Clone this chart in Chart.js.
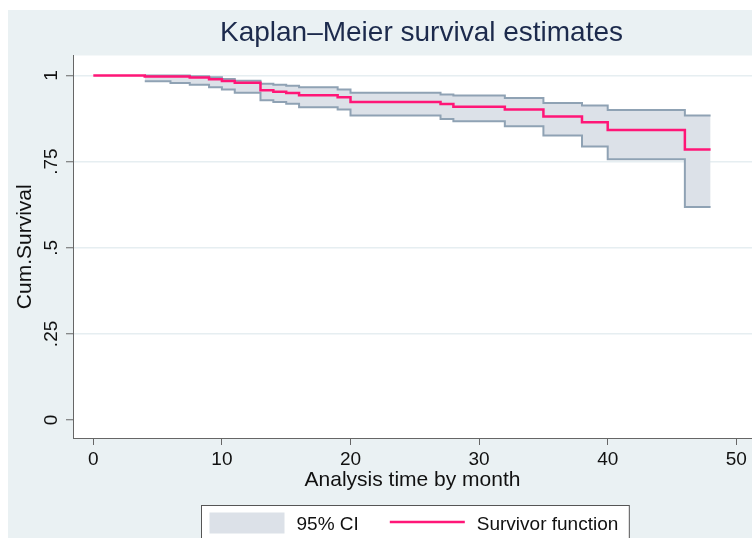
<!DOCTYPE html>
<html>
<head>
<meta charset="utf-8">
<script src="https://cdn.jsdelivr.net/npm/chart.js@4/dist/chart.umd.min.js"></script>
<style>
  html, body { margin: 0; padding: 0; background: #fff; }
  #wrap { width: 752px; height: 538px; position: relative; }
</style>
</head>
<body>
<div id="wrap"><canvas id="kmChart" width="752" height="538"></canvas></div>
<script>
// Step times (months) and Kaplan-Meier estimates
const times = [0, 4, 6, 7.5, 9, 10, 11, 13, 14, 15, 16, 19, 20, 27, 28, 32, 35, 38, 40, 46, 48];
const survival = [1, 0.997, 0.997, 0.994, 0.989, 0.984, 0.979, 0.957, 0.953, 0.949, 0.943, 0.937, 0.923, 0.917, 0.909, 0.901, 0.881, 0.864, 0.842, 0.785, 0.785];
const ciUpper = [null, 1.0, 1.0, 0.998, 0.995, 0.99, 0.985, 0.976, 0.973, 0.97, 0.966, 0.959, 0.95, 0.945, 0.942, 0.935, 0.92, 0.913, 0.9, 0.884, 0.884];
const ciLower = [null, 0.983, 0.978, 0.973, 0.966, 0.959, 0.95, 0.928, 0.923, 0.918, 0.908, 0.901, 0.884, 0.874, 0.867, 0.853, 0.826, 0.794, 0.757, 0.618, 0.618];

const xTicks = [0, 10, 20, 30, 40, 50];
const yTicks = [0, 0.25, 0.5, 0.75, 1];
const yTickLabels = ['0', '.25', '.5', '.75', '1'];

const FONT = "'Liberation Sans', Arial, sans-serif";
const PANEL = '#EAF1F3';
const PINK = '#FF1677';
const CI_LINE = '#8FA2B4';
const CI_FILL = '#DCE1E8';

const toPoints = (ys) => times.map((t, i) => ({ x: t, y: ys[i] }));

/* ---------- backgrounds: white page, tinted panel, white plot region ---------- */
const backgroundPlugin = {
  id: 'stataBackground',
  afterLayout(chart) {
    // the plot region runs past the right edge of the picture, so centre the title as if it did
    if (chart.titleBlock) chart.titleBlock.right += 18;
  },
  beforeDraw(chart) {
    const { ctx, chartArea: a, width, height } = chart;
    ctx.save();
    ctx.fillStyle = '#fff';
    ctx.fillRect(0, 0, width, height);
    ctx.fillStyle = PANEL;
    ctx.fillRect(8, 10, width - 8, height - 10);
    ctx.fillStyle = '#fff';
    ctx.fillRect(a.left, a.top, a.right - a.left, a.bottom - a.top);
    ctx.restore();
  },
};

/* ---------- rotated y tick labels (Stata style) ---------- */
const yLabelPlugin = {
  id: 'yLabels',
  afterDraw(chart) {
    const { ctx } = chart;
    const y = chart.scales.y;
    ctx.save();
    ctx.font = `19px ${FONT}`;
    ctx.fillStyle = '#111';
    ctx.textAlign = 'center';
    ctx.textBaseline = 'alphabetic';
    yTicks.forEach((v, i) => {
      ctx.save();
      ctx.translate(y.left + 56.5, y.getPixelForValue(v));
      ctx.rotate(-Math.PI / 2);
      ctx.fillText(yTickLabels[i], 0, 0);
      ctx.restore();
    });
    ctx.restore();
  },
};

/* ---------- boxed legend below the axis ---------- */
const boxLegendPlugin = {
  id: 'boxLegend',
  afterDraw(chart) {
    const { ctx, chartArea: a } = chart;
    const ds = chart.data.datasets;
    const items = [
      { text: ds[2].label, kind: 'box', color: ds[2].backgroundColor },
      { text: ds[0].label, kind: 'line', color: ds[0].borderColor },
    ];
    const sym = 75, gap = 12, itemGap = 31, padL = 8, padR = 11;
    ctx.save();
    ctx.font = `19px ${FONT}`;
    const widths = items.map((it) => ctx.measureText(it.text).width);
    const total = padL + padR + items.length * (sym + gap) + widths.reduce((s, w) => s + w, 0) + itemGap * (items.length - 1);
    const cx = (a.left + a.right) / 2 + 2;
    const left = Math.round(cx - total / 2) + 0.5;
    const top = 505.5, midY = 523;
    ctx.fillStyle = '#fff';
    ctx.fillRect(left, top, total, 60);
    ctx.strokeStyle = '#555';
    ctx.lineWidth = 1;
    ctx.strokeRect(left, top, total, 60);
    let x = left + padL;
    items.forEach((it, i) => {
      if (it.kind === 'box') {
        ctx.fillStyle = it.color;
        ctx.fillRect(x, midY - 10.5, sym, 21);
      } else {
        ctx.strokeStyle = it.color;
        ctx.lineWidth = 2.5;
        ctx.beginPath();
        ctx.moveTo(x, midY - 1);
        ctx.lineTo(x + sym, midY - 1);
        ctx.stroke();
      }
      x += sym + gap;
      ctx.fillStyle = '#111';
      ctx.textBaseline = 'alphabetic';
      ctx.fillText(it.text, x, 530);
      x += widths[i] + itemGap;
    });
    ctx.restore();
  },
};

const ctx = document.getElementById('kmChart').getContext('2d');
new Chart(ctx, {
  type: 'line',
  data: {
    datasets: [
      {
        label: 'Survivor function',
        data: toPoints(survival),
        borderColor: PINK, borderWidth: 2.5,
        stepped: true, pointRadius: 0, fill: false,
      },
      {
        label: '95% CI lower',
        data: toPoints(ciLower),
        borderColor: CI_LINE, borderWidth: 2,
        stepped: true, pointRadius: 0, fill: false,
      },
      {
        label: '95% CI',
        data: toPoints(ciUpper),
        borderColor: CI_LINE, borderWidth: 2, backgroundColor: CI_FILL,
        stepped: true, pointRadius: 0, fill: '-1',
      },
    ],
  },
  options: {
    responsive: false, animation: false,
    layout: { padding: { top: 10, bottom: 40, left: 0, right: 0 } },
    plugins: {
      legend: { display: false },
      tooltip: { enabled: false },
      title: {
        display: true, fullSize: false,
        text: 'Kaplan\u2013Meier survival estimates',
        color: '#1C2A4C',
        font: { family: FONT, size: 28, weight: 'normal' },
        padding: { top: 6.5, bottom: 5.4 },
      },
    },
    scales: {
      x: {
        type: 'linear', min: -1.579, max: 51.22,
        afterBuildTicks: (s) => { s.ticks = xTicks.map((v) => ({ value: v })); },
        afterFit: (s) => { s.height = 60; },
        grid: { drawOnChartArea: false, drawTicks: true, tickLength: 7, tickColor: '#666' },
        border: { color: '#666', width: 1 },
        ticks: { color: '#111', padding: 3, font: { family: FONT, size: 19 } },
        title: {
          display: true, text: 'Analysis time by month', color: '#111',
          font: { family: FONT, size: 21 }, padding: { top: 0, bottom: 5 },
        },
      },
      y: {
        type: 'linear', min: -0.052, max: 1.058,
        afterBuildTicks: (s) => { s.ticks = yTicks.map((v) => ({ value: v })); },
        afterFit: (s) => { s.width = 73; },
        grid: {
          color: (c) => (c.tick && c.tick.value === 0 ? 'rgba(0,0,0,0)' : '#E6EEF1'),
          lineWidth: 1.5, drawTicks: true, tickLength: 7, tickColor: '#666', tickWidth: 1,
        },
        border: { color: '#666', width: 1 },
        ticks: { display: false },
        title: {
          display: true, text: 'Cum.Survival', color: '#111',
          font: { family: FONT, size: 21 }, padding: { top: 13.1, bottom: 0 },
        },
      },
    },
  },
  plugins: [backgroundPlugin, yLabelPlugin, boxLegendPlugin],
});
</script>
</body>
</html>
